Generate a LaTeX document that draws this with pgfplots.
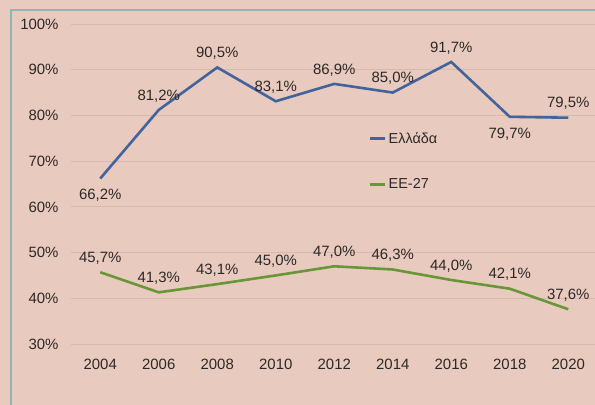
\documentclass[border=0pt]{standalone}
\usepackage{pgfplots}
\pgfplotsset{compat=1.18}
\usepackage{fontspec}
\setmainfont{Liberation Sans}
\definecolor{bg}{RGB}{232,203,190}
\definecolor{frame}{RGB}{140,182,178}
\definecolor{gridc}{RGB}{214,186,176}
\definecolor{gr}{RGB}{66,99,155}
\definecolor{eu}{RGB}{104,150,56}
\definecolor{txt}{RGB}{45,40,40}
\tikzset{
  lab/.style={anchor=center, yshift=14bp, font=\fontsize{15}{17}\selectfont, text=txt},
  labb/.style={anchor=center, yshift=-17bp, font=\fontsize{15}{17}\selectfont, text=txt},
}
\begin{document}
\begin{tikzpicture}
\useasboundingbox (0,0) rectangle (595bp,405bp);
\fill[bg] (0,0) rectangle (595bp,405bp);
\draw[frame, line width=2bp] (11bp,-10bp) -- (11bp,395bp) -- (610bp,395bp);
\begin{axis}[
  at={(71bp,61bp)}, anchor=south west,
  scale only axis, width=526.5bp, height=320bp,
  xmin=2003, xmax=2021, ymin=30, ymax=100,
  axis line style={draw=none},
  xtick={2004,2006,...,2020},
  ytick={30,40,...,100},
  major tick length=0pt,
  ymajorgrids, grid style={gridc, line width=0.8bp},
  yticklabel={\pgfmathprintnumber{\tick}\%},
  /pgf/number format/1000 sep={},
  /pgf/number format/assume math mode=true,
  tick label style={font=\fontsize{15}{17}\selectfont, text=txt},
  xticklabel style={yshift=-12bp},
  yticklabel style={xshift=-9bp},
  legend style={at={(0.565,0.668)}, anchor=north west, draw=none, fill=none,
    font=\fontsize{14.5}{16}\selectfont, text=txt, row sep=30bp, inner sep=0pt,
    /tikz/every even column/.append style={column sep=1bp}},
  legend cell align=left,
  legend image code/.code={\draw[#1, line width=3bp] (0bp,0bp) -- (15bp,0bp);},
]
\addplot[gr, line width=2.6bp] coordinates {
 (2004,66.2) (2006,81.2) (2008,90.5) (2010,83.1) (2012,86.9) (2014,85.0) (2016,91.7) (2018,79.7) (2020,79.5)};
\addlegendentry{Ελλάδα}
\addplot[eu, line width=2.6bp] coordinates {
 (2004,45.7) (2006,41.3) (2008,43.1) (2010,45.0) (2012,47.0) (2014,46.3) (2016,44.0) (2018,42.1) (2020,37.6)};
\addlegendentry{EE-27}
\node[labb] at (axis cs:2004,66.2) {66,2\%};
\node[lab]  at (axis cs:2006,81.2) {81,2\%};
\node[lab]  at (axis cs:2008,90.5) {90,5\%};
\node[lab]  at (axis cs:2010,83.1) {83,1\%};
\node[lab]  at (axis cs:2012,86.9) {86,9\%};
\node[lab]  at (axis cs:2014,85.0) {85,0\%};
\node[lab]  at (axis cs:2016,91.7) {91,7\%};
\node[labb] at (axis cs:2018,79.7) {79,7\%};
\node[lab]  at (axis cs:2020,79.5) {79,5\%};
\node[lab]  at (axis cs:2004,45.7) {45,7\%};
\node[lab]  at (axis cs:2006,41.3) {41,3\%};
\node[lab]  at (axis cs:2008,43.1) {43,1\%};
\node[lab]  at (axis cs:2010,45.0) {45,0\%};
\node[lab]  at (axis cs:2012,47.0) {47,0\%};
\node[lab]  at (axis cs:2014,46.3) {46,3\%};
\node[lab]  at (axis cs:2016,44.0) {44,0\%};
\node[lab]  at (axis cs:2018,42.1) {42,1\%};
\node[lab]  at (axis cs:2020,37.6) {37,6\%};
\end{axis}
\end{tikzpicture}
\end{document}
